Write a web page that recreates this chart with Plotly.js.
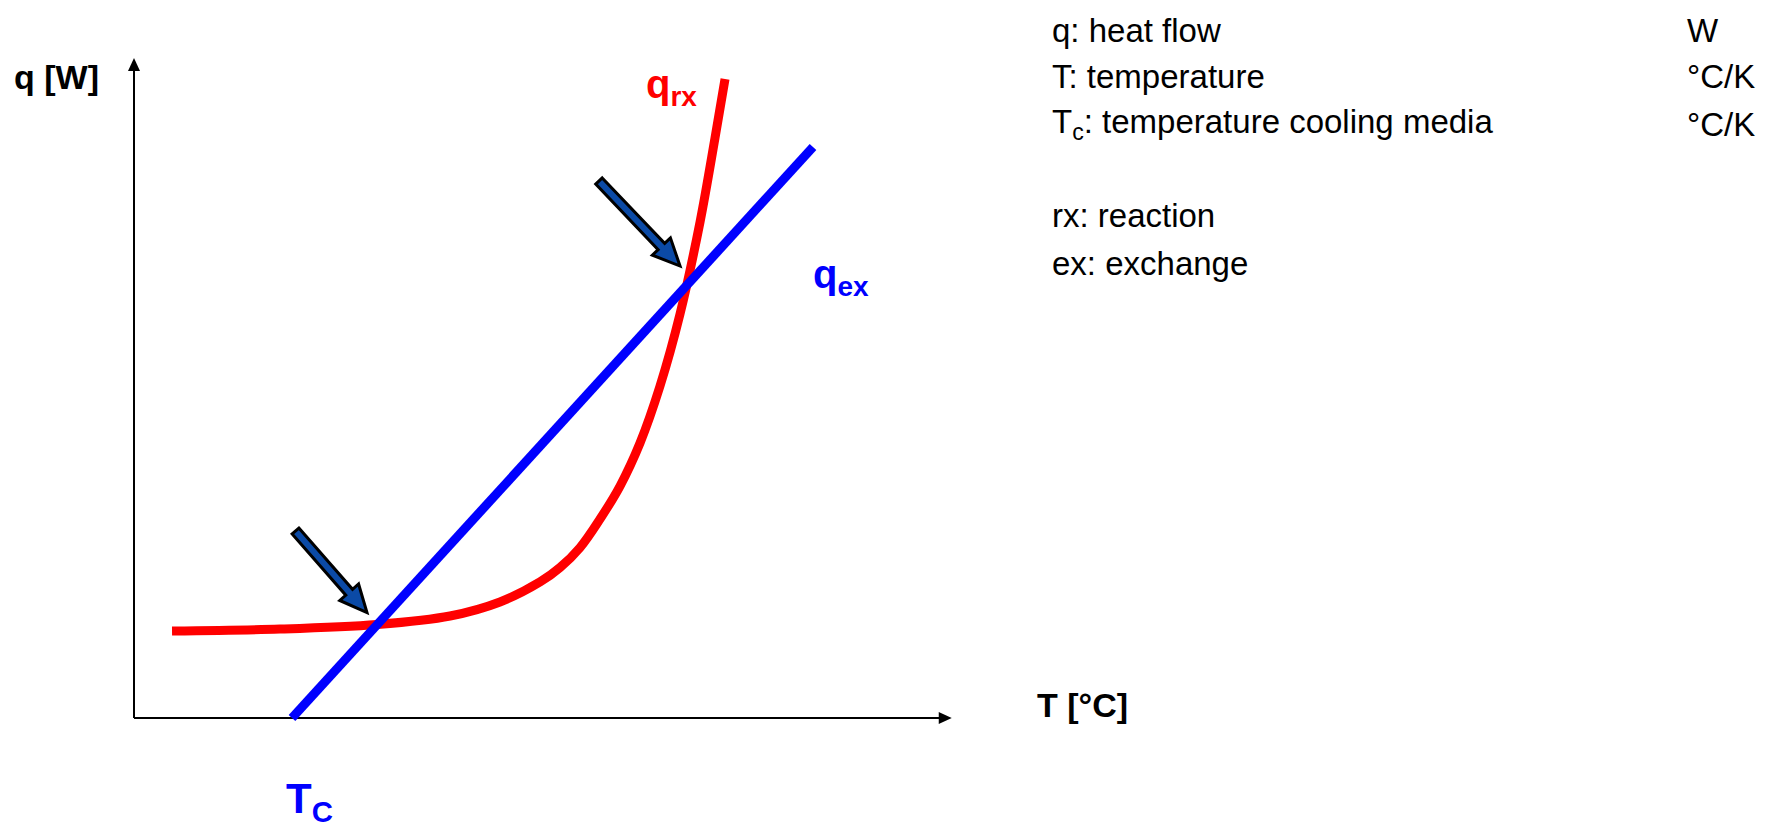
<!DOCTYPE html>
<html><head><meta charset="utf-8">
<script src="https://cdn.plot.ly/plotly-3.0.1.min.js"></script>
<style>html,body{margin:0;padding:0;background:#fff;}#chart{width:1775px;height:828px;}</style>
</head><body><div id="chart"></div>
<script>
// ---- data (schematic units: q axis runs 0..100) ----
// reaction heat flow q_rx vs temperature T
const T_rx = [5.76, 22.12, 36.82, 47.88, 55.45, 61.52, 64.55, 67.58, 70.61, 73.64, 76.67, 79.70, 82.73, 85.76, 88.03, 89.55];
const q_rx = [13.18, 13.48, 14.17, 15.45, 17.58, 20.61, 22.80, 25.83, 30.15, 35.15, 41.67, 50.30, 61.21, 75.15, 87.88, 96.82];
// exchanged heat flow q_ex (straight line starting at T_C)
const T_ex = [23.94, 102.88];
const q_ex = [0, 86.52];
// axis extents
const T_axisMax = 123.9;
const q_axisMax = 100;
// block arrows pointing at the operating points (tail -> tip)
const arrowTailT = [24.47, 70.45];
const arrowTailQ = [28.33, 81.36];
const arrowTipT  = [35.30, 82.73];
const arrowTipQ  = [15.98, 68.48];
// texts
const axisTitleQ = '<b>q [W]</b>';
const axisTitleT = '<b>T [°C]</b>';
const labelRx = '<b>q<sub>rx</sub></b>';
const labelEx = '<b>q<sub>ex</sub></b>';
const labelTc = '<b>T<sub>C</sub></b>';
const legendTerms = ['q: heat flow', 'T: temperature', 'T<sub>c</sub>: temperature cooling media', 'rx: reaction', 'ex: exchange'];
const legendUnits = ['W', '°C/K', '°C/K'];

// ---- layout geometry ----
const W = 1775, H = 828;
const PX = 6.6;            // pixels per data unit (same on both axes)
const X0 = 134, Y0 = 718;  // pixel position of origin
const xr = [-X0 / PX, (W - X0) / PX];
const yr = [-(H - Y0) / PX, Y0 / PX];
const FONT = 'Liberation Sans, Arial, sans-serif';
function at(px, py) { return {xref: 'paper', yref: 'paper', x: px / W, y: 1 - py / H}; }

function blockArrow(t0, q0, t1, q1) {
  const dx = t1 - t0, dy = q1 - q0, L = Math.hypot(dx, dy);
  const ux = dx / L, uy = dy / L, nx = -uy, ny = ux;
  const sw = 4.5 / PX, hw = 12.5 / PX, hl = 27 / PX;
  const bx = t1 - ux * hl, by = q1 - uy * hl;
  const pts = [[t0 + nx * sw, q0 + ny * sw], [bx + nx * sw, by + ny * sw], [bx + nx * hw, by + ny * hw], [t1, q1],
               [bx - nx * hw, by - ny * hw], [bx - nx * sw, by - ny * sw], [t0 - nx * sw, q0 - ny * sw]];
  return 'M' + pts.map(p => p[0].toFixed(3) + ',' + p[1].toFixed(3)).join('L') + 'Z';
}

const shapes = [];
// axes
const headL = 13 / PX, headW = 6 / PX;
shapes.push({type: 'line', xref: 'x', yref: 'y', x0: 0, y0: 0, x1: T_axisMax - headL * 0.8, y1: 0, line: {color: '#000', width: 2}, layer: 'below'});
shapes.push({type: 'line', xref: 'x', yref: 'y', x0: 0, y0: 0, x1: 0, y1: q_axisMax - headL * 0.8, line: {color: '#000', width: 2}, layer: 'below'});
shapes.push({type: 'path', xref: 'x', yref: 'y', layer: 'below', fillcolor: '#000', line: {width: 0},
  path: `M${T_axisMax},0L${T_axisMax - headL},${headW}L${T_axisMax - headL},${-headW}Z`});
shapes.push({type: 'path', xref: 'x', yref: 'y', layer: 'below', fillcolor: '#000', line: {width: 0},
  path: `M0,${q_axisMax}L${headW},${q_axisMax - headL}L${-headW},${q_axisMax - headL}Z`});
// block arrows
for (let i = 0; i < arrowTailT.length; i++) {
  shapes.push({type: 'path', xref: 'x', yref: 'y', layer: 'above', fillcolor: '#0b4aa6',
    line: {color: '#000', width: 3}, path: blockArrow(arrowTailT[i], arrowTailQ[i], arrowTipT[i], arrowTipQ[i])});
}

const annotations = [];
function txt(text, px, py, size, color, xanchor) {
  annotations.push(Object.assign(at(px, py), {text: text, showarrow: false, xanchor: xanchor || 'left', yanchor: 'middle',
    font: {family: FONT, size: size, color: color}}));
}
txt(axisTitleQ, 12, 77, 34, '#000');
txt(axisTitleT, 1035, 705, 34, '#000');
txt(labelRx, 644, 87, 40, '#ff0000');
txt(labelEx, 811, 277, 40, '#0000ff');
txt(labelTc, 284, 801, 42, '#0000ff');
const legendY = [31, 77, 124, 215, 263];
legendTerms.forEach((t, i) => txt(t, 1050, legendY[i], 33, '#000'));
legendUnits.forEach((u, i) => txt(u, 1685, legendY[i], 33, '#000'));

const traces = [
  {x: T_rx, y: q_rx, type: 'scatter', mode: 'lines', line: {color: '#ff0000', width: 9, shape: 'spline', smoothing: 1}, hoverinfo: 'skip'},
  {x: T_ex, y: q_ex, type: 'scatter', mode: 'lines', line: {color: '#0000ff', width: 9}, hoverinfo: 'skip'}
];

const layout = {
  width: W, height: H, margin: {l: 0, r: 0, t: 0, b: 0}, autosize: false,
  paper_bgcolor: '#fff', plot_bgcolor: '#fff', showlegend: false,
  xaxis: {range: xr, visible: false, fixedrange: true},
  yaxis: {range: yr, visible: false, fixedrange: true},
  shapes: shapes, annotations: annotations
};
Plotly.newPlot('chart', traces, layout, {staticPlot: true, displayModeBar: false});
</script>
</body></html>
